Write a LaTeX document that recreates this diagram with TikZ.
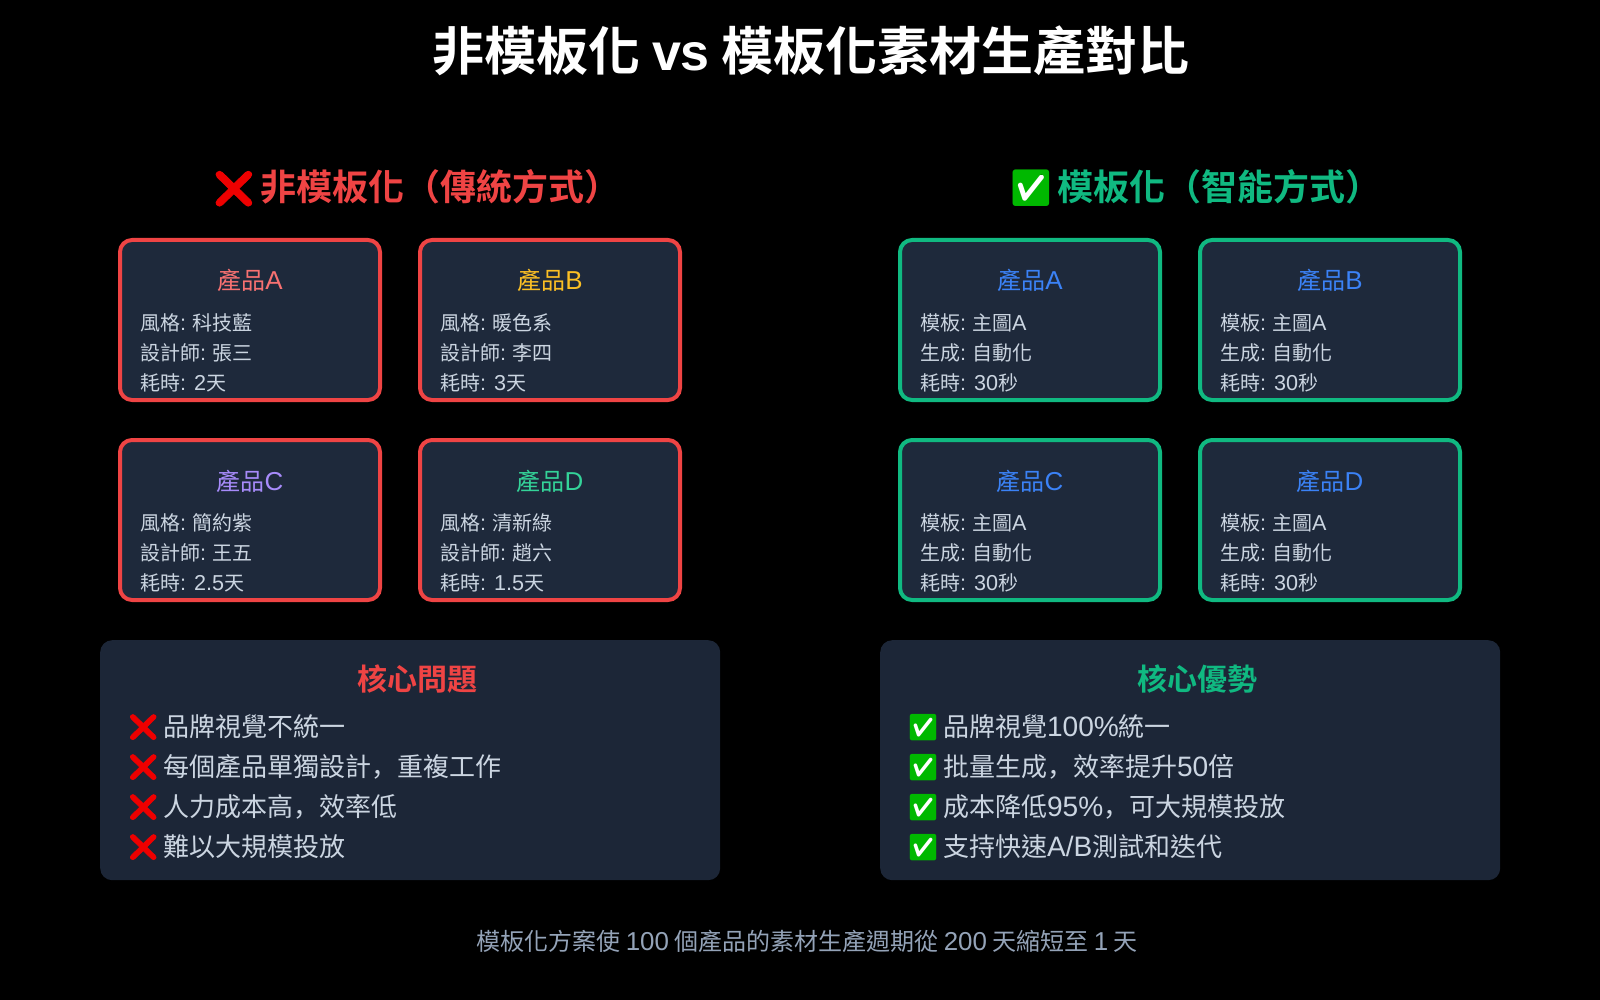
\documentclass[tikz,border=0pt]{standalone}
\usepackage{fontspec}
\setmainfont{Noto Sans CJK TC}[BoldFont={Noto Sans CJK TC Bold}]
\newfontfamily\latf{Liberation Sans}[Scale=1.08]
\newfontfamily\latt{Liberation Sans}
\newfontfamily\scf{Noto Sans CJK SC}
\newfontfamily\emof{Noto Emoji}
\newfontfamily\emobf{Noto Emoji}[FakeBold=2.5]
\definecolor{bgcard}{HTML}{1E293B}
\definecolor{bgpanel}{HTML}{1C2637}
\definecolor{redc}{HTML}{EF4444}
\definecolor{greenc}{HTML}{10B981}
\definecolor{bodyc}{HTML}{CBD5E1}
\definecolor{footc}{HTML}{94A3B8}
\definecolor{blt}{HTML}{3B82F6}
\definecolor{tA}{HTML}{F87171}
\definecolor{tB}{HTML}{FBBF24}
\definecolor{tC}{HTML}{A78BFA}
\definecolor{tD}{HTML}{34D399}
\definecolor{emored}{HTML}{EE0000}
\definecolor{emogreen}{HTML}{00B800}
\newcommand\fs[1]{\fontsize{#1}{#1}\selectfont}
\newcommand\lt[1]{{\latf #1}}
\newcommand\cm{{\scf ，}}
\newcommand\xem[1]{\makebox[#1pt][c]{\emobf\fontsize{#1}{#1}\selectfont\textcolor{emored}{❌}}}
\newcommand\oem[1]{\makebox[#1pt][c]{\emof\fontsize{#1}{#1}\selectfont\rlap{\hspace{.25em}\textcolor{white}{\rule[-.07em]{.8em}{.8em}}}\textcolor{emogreen}{✅}}}
\tikzset{
  x=1pt,y=-1pt,
  cardbox/.style={rounded corners=12pt,fill=bgcard,line width=4pt,minimum width=260pt,minimum height=160pt,anchor=north west,inner sep=0pt},
  panelbox/.style={rounded corners=12pt,fill=bgpanel,minimum width=620pt,minimum height=240pt,anchor=north west,inner sep=0pt},
  cardtitle/.style={anchor=base,inner sep=0pt,font=\fs{24}},
  cardline/.style={anchor=base west,inner sep=0pt,text=bodyc,font=\fs{20}},
  listline/.style={anchor=base west,inner sep=0pt,text=bodyc,font=\fs{26}},
  panelhead/.style={anchor=base,inner sep=0pt,font=\bfseries\fs{30}},
  sechead/.style={anchor=base,inner sep=0pt,font=\bfseries\fs{36}},
}
\newcommand\card[8]{% name,x,y,edge,titlecolor,title,l1,l2
  \node[cardbox,draw=#4] (#1) at (#2-2,#3-2) {};
  \node[cardtitle,text=#5] (#1t) at (#2+130,#3+50) {#6};
  \node[cardline] (#1a) at (#2+20,#3+90) {#7};
  \node[cardline] (#1b) at (#2+20,#3+120) {#8};
}
\begin{document}
\begin{tikzpicture}
\useasboundingbox[fill=black] (0,0) rectangle (1600,1000);
\node[anchor=base,inner sep=0pt,text=white,font=\bfseries\fs{52}] (title) at (811,71) {非模板化 {\latt vs} 模板化素材生產對比};

\node[sechead,text=redc] (lhead) at (418,201) {\xem{36} 非模板化（傳統方式）};
\node[sechead,text=greenc] (rhead) at (1197,201) {\oem{36} 模板化（智能方式）};

\card{la}{120}{240}{redc}{tA}{產品\lt{A}}{風格\lt{:} 科技藍}{設計師\lt{:} 張三}
\node[cardline] (lac) at (140,390) {耗時\lt{: 2}天};
\card{lb}{420}{240}{redc}{tB}{產品\lt{B}}{風格\lt{:} 暖色系}{設計師\lt{:} 李四}
\node[cardline] (lbc) at (440,390) {耗時\lt{: 3}天};
\card{lc}{120}{440}{redc}{tC}{產品\lt{C}}{風格\lt{:} 簡約紫}{設計師\lt{:} 王五}
\node[cardline] (lcc) at (140,590) {耗時\lt{: 2.5}天};
\card{ld}{420}{440}{redc}{tD}{產品\lt{D}}{風格\lt{:} 清新綠}{設計師\lt{:} 趙六}
\node[cardline] (ldc) at (440,590) {耗時\lt{: 1.5}天};

\card{ra}{900}{240}{greenc}{blt}{產品\lt{A}}{模板\lt{:} 主圖\lt{A}}{生成\lt{:} 自動化}
\node[cardline] (rac) at (920,390) {耗時\lt{: 30}秒};
\card{rb}{1200}{240}{greenc}{blt}{產品\lt{B}}{模板\lt{:} 主圖\lt{A}}{生成\lt{:} 自動化}
\node[cardline] (rbc) at (1220,390) {耗時\lt{: 30}秒};
\card{rc}{900}{440}{greenc}{blt}{產品\lt{C}}{模板\lt{:} 主圖\lt{A}}{生成\lt{:} 自動化}
\node[cardline] (rcc) at (920,590) {耗時\lt{: 30}秒};
\card{rd}{1200}{440}{greenc}{blt}{產品\lt{D}}{模板\lt{:} 主圖\lt{A}}{生成\lt{:} 自動化}
\node[cardline] (rdc) at (1220,590) {耗時\lt{: 30}秒};

\node[panelbox] (lp) at (100,640) {};
\node[panelbox] (rp) at (880,640) {};
\node[panelhead,text=redc] (lph) at (417,690) {核心問題};
\node[panelhead,text=greenc] (rph) at (1197,690) {核心優勢};

\node[listline] (l1) at (130,736) {\xem{26}\hspace{1pt} 品牌視覺不統一};
\node[listline] (l2) at (130,776) {\xem{26}\hspace{1pt} 每個產品單獨設計\cm 重複工作};
\node[listline] (l3) at (130,816) {\xem{26}\hspace{1pt} 人力成本高\cm 效率低};
\node[listline] (l4) at (130,856) {\xem{26}\hspace{1pt} 難以大規模投放};

\node[listline] (r1) at (910,736) {\oem{26}\hspace{1pt} 品牌視覺\lt{100\%}統一};
\node[listline] (r2) at (910,776) {\oem{26}\hspace{1pt} 批量生成\cm 效率提升\lt{50}倍};
\node[listline] (r3) at (910,816) {\oem{26}\hspace{1pt} 成本降低\lt{95\%}\cm 可大規模投放};
\node[listline] (r4) at (910,856) {\oem{26}\hspace{1pt} 支持快速\lt{A/B}測試和迭代};

\node[anchor=base,inner sep=0pt,text=footc,font=\fs{24}] (foot) at (807,950) {模板化方案使 \lt{100} 個產品的素材生產週期從 \lt{200} 天縮短至 \lt{1} 天};
\end{tikzpicture}
\end{document}
